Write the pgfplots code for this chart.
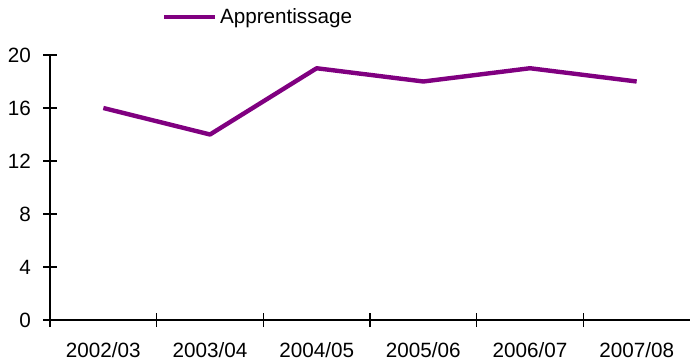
\documentclass[border=0pt]{standalone}
\usepackage{pgfplots}
\pgfplotsset{compat=1.18}
\usepackage{fontspec}
\setmainfont{Liberation Sans}
\definecolor{lineP}{HTML}{800080}
\begin{document}
\begin{tikzpicture}
\begin{axis}[
  name=ax,
  scale only axis,
  width=480pt, height=198.75pt,
  xmin=-0.5, xmax=5.5, ymin=0, ymax=20,
  axis lines*=left,
  axis line style={black, line width=1pt, -},
  xtick={0,1,2,3,4,5},
  xticklabels={2002/03,2003/04,2004/05,2005/06,2006/07,2007/08},
  minor xtick={-0.5,0.5,1.5,2.5,3.5,4.5},
  ytick={0,4,8,12,16,20},
  tick align=center,
  major tick length=10.5pt,
  minor tick length=10.5pt,
  x tick style={draw=none},
  minor x tick style={draw=black, line width=1pt},
  y tick style={black, line width=1pt},
  xticklabel style={yshift=-8.25pt},
  yticklabel style={xshift=-5.5pt},
  /pgf/number format/assume math mode=true,
  tick label style={font=\fontsize{15.5}{17}\selectfont},
  legend style={draw=none, fill=none, at={(0.175,1.143)}, anchor=west,
     font=\fontsize{15.5}{17}\selectfont, inner sep=0pt,
     /tikz/every even column/.append style={column sep=0pt}},
  legend image code/.code={\draw[#1] (0pt,0pt) -- (38pt,0pt);},
  clip=false,
]
\addplot[lineP, line width=3.3pt, line join=round] coordinates {
  (0,16) (1,14) (2,19) (3,18) (4,19) (5,18)
};
\addlegendentry{Apprentissage}
\end{axis}
\pgfresetboundingbox
\path ([xshift=-37.5pt,yshift=-32.25pt]ax.south west) rectangle ([yshift=41.25pt]ax.north east);
\end{tikzpicture}
\end{document}
